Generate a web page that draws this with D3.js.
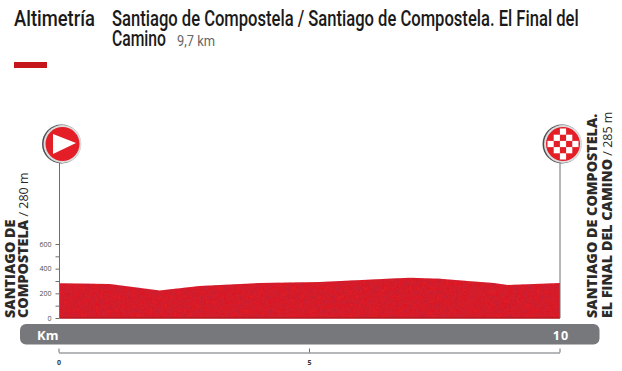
<!DOCTYPE html>
<html>
<head>
<meta charset="utf-8">
<script src="https://d3js.org/d3.v7.min.js"></script>
<style>
  html, body { margin: 0; padding: 0; background: #fff; }
  svg { display: block; }
  .head { font-family: "Roboto", sans-serif; font-weight: 500; fill: #1a1a1a; }
  .place { font-family: "Open Sans", sans-serif; fill: #2b2a29; font-size: 14.3px; }
  .axis text { font-family: "Open Sans", sans-serif; fill: #4a4a4a; font-size: 7px; }
  .axis line, .axis path { stroke: #6d6e71; }
</style>
</head>
<body>
<div id="chart"></div>
<script>
// Stage profile
const profileKm = [0, 1, 2, 2.8, 4, 5.2, 6.45, 7, 7.6, 8.15, 8.67, 8.95, 10];
const profileAlt = [282, 276, 223, 260, 284, 292, 316, 326, 318, 300, 284, 268, 284];
const altTicks = [0, 100, 200, 300, 400, 500, 600];
const altLabels = [0, 200, 400, 600];
const kmTicks = [0, 5, 10];
const kmLabels = [0, 5];

const width = 622, height = 371;
const svg = d3.select("#chart").append("svg")
    .attr("width", width)
    .attr("height", height);

const x = d3.scaleLinear().domain([0, 10]).range([59.5, 560]);
const xAxisScale = d3.scaleLinear().domain([0, 10]).range([58.5, 559.5]);
const y = d3.scaleLinear().domain([0, 600]).range([318, 244]);

// Mottled print texture for the profile
const filter = svg.append("defs").append("filter").attr("id", "mottle")
    .attr("x", 0).attr("y", 0).attr("width", 1).attr("height", 1);
filter.append("feTurbulence").attr("type", "fractalNoise").attr("baseFrequency", 0.22)
    .attr("numOctaves", 2).attr("seed", 4).attr("result", "noise");
filter.append("feColorMatrix").attr("in", "noise").attr("type", "matrix")
    .attr("values", "0 0 0 0 0.45  0 0 0 0 0.02  0 0 0 0 0.05  0 0 0 1.1 -0.38").attr("result", "tint");
filter.append("feComposite").attr("in", "tint").attr("in2", "SourceAlpha").attr("operator", "in").attr("result", "spots");
const merge = filter.append("feMerge");
merge.append("feMergeNode").attr("in", "SourceGraphic");
merge.append("feMergeNode").attr("in", "spots");

// Header: condensed by scaling, the wide font is squeezed to the target width
function headText(txt, px, py, size, w, fill, weight) {
    const t = svg.append("text").attr("class", "head")
        .attr("font-size", size)
        .style("fill", fill || null)
        .style("font-weight", weight || null)
        .text(txt);
    const sx = w / t.node().getComputedTextLength();
    t.attr("transform", `translate(${px},${py}) scale(${sx},1)`);
}
headText("Altimetría", 14, 26, 22, 81);
headText("Santiago de Compostela / Santiago de Compostela. El Final del", 112, 26, 22, 467);
headText("Camino", 112, 46, 22, 54);
headText("9,7 km", 177, 46, 15.5, 38, "#666", 400);
svg.append("rect").attr("x", 14).attr("y", 62).attr("width", 33).attr("height", 6).attr("fill", "#c4161c");

// Grey km bar
svg.append("rect").attr("x", 20).attr("y", 324).attr("width", 579.5).attr("height", 20.5)
    .attr("rx", 6).attr("fill", "#77787b");
svg.append("text").attr("x", 37).attr("y", 339.5)
    .attr("font-family", "Open Sans").attr("font-weight", 700).attr("font-size", 13)
    .attr("fill", "#fff").text("Km");
svg.append("text").attr("x", 561).attr("y", 339.5).attr("text-anchor", "middle")
    .attr("font-family", "Open Sans").attr("font-weight", 700).attr("font-size", 12.5)
    .attr("letter-spacing", 1).attr("fill", "#fff").text("10");

// Profile
const area = d3.area()
    .x((d, i) => x(profileKm[i]))
    .y0(y(0))
    .y1(d => y(d));
svg.append("path").datum(profileAlt).attr("d", area).attr("fill", "#dc1f28").attr("filter", "url(#mottle)");
svg.append("line").attr("x1", x(0)).attr("x2", x(10)).attr("y1", y(0)).attr("y2", y(0))
    .attr("stroke", "#b31a22").attr("stroke-width", 1.5);

// Altitude axis
const left = svg.append("g").attr("class", "axis")
    .attr("transform", `translate(${x(0)},0)`)
    .call(d3.axisLeft(y).tickValues(altTicks).tickSize(4).tickPadding(4)
        .tickFormat(d => altLabels.includes(d) ? d : ""));
left.select(".domain").remove();

// Km axis
svg.append("g").attr("class", "axis")
    .attr("transform", "translate(0,352.5)")
    .call(d3.axisBottom(xAxisScale).tickValues(kmTicks).tickSizeInner(-4).tickSizeOuter(0).tickPadding(8)
        .tickFormat(d => kmLabels.includes(d) ? d : ""))
    .selectAll("text").attr("font-weight", 700).style("fill", "#333");

// Start and finish posts
[0, 10].forEach(k => {
    svg.append("line").attr("x1", x(k)).attr("x2", x(k)).attr("y1", 160).attr("y2", 318)
        .attr("stroke", "#6d6e71").attr("stroke-width", 1);
});

function badge(cx, cy) {
    const g = svg.append("g").attr("transform", `translate(${cx},${cy})`);
    g.append("circle").attr("cx", -0.5).attr("r", 19.5).attr("fill", "#4d4e52");
    g.append("circle").attr("cx", 0.5).attr("r", 19).attr("fill", "#dcdcdc");
    g.append("circle").attr("cx", 0.5).attr("r", 17).attr("fill", "#e31e26");
    return g;
}

const start = badge(62, 144);
start.append("path").attr("d", "M-9,-10 L14,-1 L-9,10 Z").attr("fill", "#fff");

const finish = badge(562.5, 144);
const cell = 6.2;
d3.range(-2, 3).forEach(r => d3.range(-2, 3).forEach(c => {
    if ((r + c) % 2 === 0 && Math.hypot(r, c) < 2.5) {
        finish.append("rect")
            .attr("x", c * cell - cell / 2 + 0.5).attr("y", r * cell - cell / 2)
            .attr("width", cell).attr("height", cell).attr("fill", "#fff");
    }
}));

// Vertical place names
function vertical(px, py, bold, light) {
    const t = svg.append("text").attr("class", "place")
        .attr("transform", `translate(${px},${py}) rotate(-90)`);
    t.append("tspan").attr("font-weight", 800).text(bold);
    if (light) t.append("tspan").attr("font-size", 12.5).attr("font-weight", 400).text(light);
}
vertical(14.5, 318, "SANTIAGO DE");
vertical(28, 318, "COMPOSTELA", " / 280 m");
vertical(597, 318, "SANTIAGO DE COMPOSTELA.");
vertical(612, 318, "EL FINAL DEL CAMINO", " / 285 m");
</script>
</body>
</html>
